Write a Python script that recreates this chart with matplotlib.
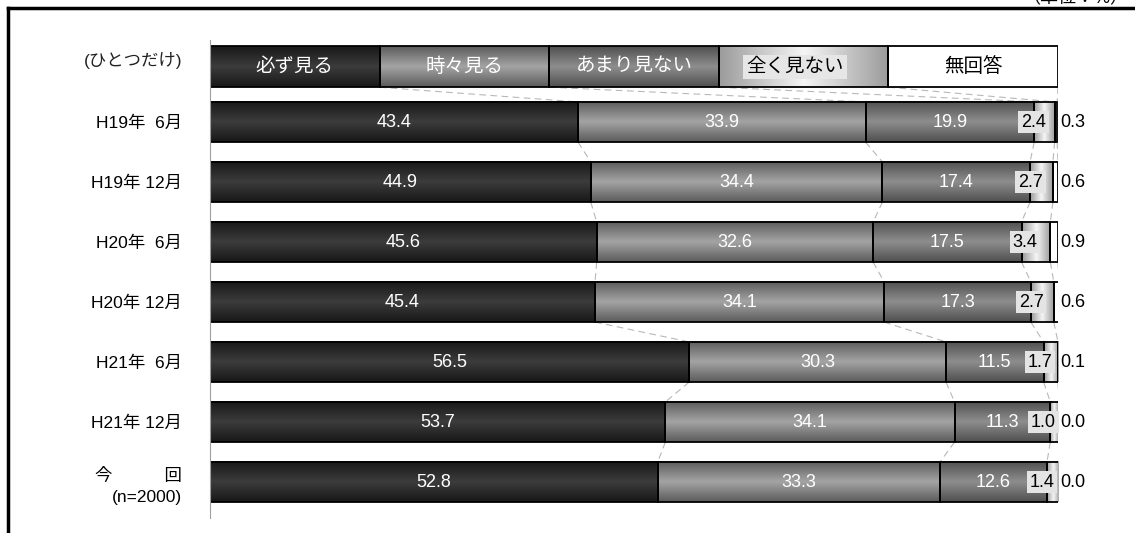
import numpy as np
import matplotlib
matplotlib.use("Agg")
import matplotlib.pyplot as plt
from matplotlib.colors import LinearSegmentedColormap
from matplotlib.patches import Rectangle
from matplotlib.lines import Line2D

plt.rcParams['font.family'] = ['Liberation Sans', 'Noto Sans CJK JP', 'DejaVu Sans']

periods = ["H19年  6月", "H19年 12月", "H20年  6月", "H20年 12月",
           "H21年  6月", "H21年 12月", "今　　　回\n(n=2000)"]
answers = ["必ず見る", "時々見る", "あまり見ない", "全く見ない", "無回答"]
always = [43.4, 44.9, 45.6, 45.4, 56.5, 53.7, 52.8]
sometimes = [33.9, 34.4, 32.6, 34.1, 30.3, 34.1, 33.3]
rarely = [19.9, 17.4, 17.5, 17.3, 11.5, 11.3, 12.6]
never = [2.4, 2.7, 3.4, 2.7, 1.7, 1.0, 1.4]
no_answer = [0.3, 0.6, 0.9, 0.6, 0.1, 0.0, 0.0]

series = [always, sometimes, rarely, never, no_answer]
# (edge colour, centre colour) of the shaded fill for each answer
shades = [("#181818", "#3c3c3c"), ("#5c5c5c", "#a4a4a4"),
          ("#505050", "#8e8e8e"), ("#9c9c9c", "#f6f6f6"), ("#ffffff", "#ffffff")]
cmaps = [LinearSegmentedColormap.from_list("s%d" % i, [e, c, e]) for i, (e, c) in enumerate(shades)]
grad = np.linspace(0, 1, 64).reshape(-1, 1)

fig = plt.figure(figsize=(11.35, 5.33), dpi=100)
ax = fig.add_axes([210 / 1135, 15 / 533, 848 / 1135, 478 / 533])

h = 0.67
legend_y = -0.92


def shaded_box(ax, x0, w, yc, k, height):
    horiz = k == 3
    img = grad.T if horiz else grad
    ax.imshow(img, cmap=cmaps[k], vmin=0, vmax=1, aspect='auto', interpolation='bilinear',
              extent=(x0, x0 + w, yc + height / 2, yc - height / 2), zorder=1)
    ax.add_patch(Rectangle((x0, yc - height / 2), w, height, fill=False,
                           edgecolor='black', lw=1.3, zorder=2))


# legend row above the bars
for k, name in enumerate(answers):
    shaded_box(ax, 20 * k, 20, legend_y, k, 0.68)
    if k < 3:
        ax.text(20 * k + 10, legend_y, name, ha='center', va='center', color='white', fontsize=14, zorder=3)
    elif k == 3:
        ax.text(20 * k + 9, legend_y, name, ha='center', va='center', color='black', fontsize=14, zorder=3,
                bbox=dict(boxstyle='square,pad=0.15', fc='#e6e6e6', ec='none'))
    else:
        ax.text(20 * k + 10, legend_y, name, ha='center', va='center', color='black', fontsize=14, zorder=3)

# stacked bars
for i in range(len(periods)):
    left = 0
    for k, vals in enumerate(series):
        v = vals[i]
        shaded_box(ax, left, v, i, k, h)
        if k < 3:
            ax.text(left + v / 2, i, "%.1f" % v, ha='center', va='center', color='white', fontsize=13, zorder=3)
        elif k == 3:
            ax.text(left + v / 2 - 1.3, i, "%.1f" % v, ha='center', va='center', color='black', fontsize=13,
                    zorder=3, bbox=dict(boxstyle='square,pad=0.15', fc='#e4e4e4', ec='none'))
        else:
            ax.text(100.3, i, "%.1f" % v, ha='left', va='center', color='black', fontsize=13, zorder=3)
        left += v

# dashed connectors between segment boundaries
bounds = np.cumsum(np.array(series), axis=0)
legend_bounds = [20, 40, 60, 80, 100]
for k in range(5):
    ax.add_line(Line2D([legend_bounds[k], bounds[k][0]], [legend_y + 0.34, -h / 2],
                       color='#b8b8b8', lw=0.8, ls=(0, (6, 4)), zorder=0.5))
    for i in range(len(periods) - 1):
        ax.add_line(Line2D([bounds[k][i], bounds[k][i + 1]], [i + h / 2, i + 1 - h / 2],
                           color='#b8b8b8', lw=0.8, ls=(0, (6, 4)), zorder=0.5))

ax.set_xlim(0, 100)
ax.set_ylim(6.6, -1.367)
ax.set_xticks([])
ax.set_yticks(range(len(periods)))
ax.set_yticklabels(periods, fontsize=12.5, multialignment='right', linespacing=1.5)
ax.tick_params(axis='y', length=0, pad=20)
for s in ['top', 'right', 'bottom']:
    ax.spines[s].set_visible(False)
ax.spines['left'].set_color('#a0a0a0')
ax.spines['left'].set_linewidth(0.8)

ax.text(-3.3, -1.03, "(ひとつだけ)", ha='right', va='center', fontsize=12.5, color='#222222')

# outer frame and unit note
fig.add_artist(Line2D([8 / 1135, 1], [1 - 8 / 533, 1 - 8 / 533], color='black', lw=2.5))
fig.add_artist(Line2D([8 / 1135, 8 / 1135], [0, 1 - 8 / 533], color='black', lw=2.5))
fig.text(1075 / 1135, 1 - 3 / 533, "（単位：%）", ha='center', va='baseline', fontsize=13)

fig.savefig("out.png", dpi=100)
